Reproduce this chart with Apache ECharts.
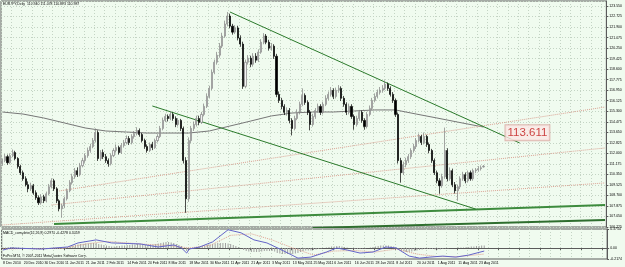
<!DOCTYPE html>
<html>
<head>
<meta charset="utf-8">
<title>EURJPY Daily</title>
<script src="https://cdn.jsdelivr.net/npm/echarts@6/dist/echarts.min.js"></script>
<style>
  html, body { margin: 0; padding: 0; background: #f0fbef; }
  #main { width: 625px; height: 267px; }
</style>
</head>
<body>
<div id="main"></div>
<script>
// trading days from 8 Dec 2010, extra empty slots on the right (chart shift)
const MONTHS = ['Jan', 'Feb', 'Mar', 'Apr', 'May', 'Jun', 'Jul', 'Aug', 'Sep', 'Oct', 'Nov', 'Dec']
const slotCount = 234
const dates = []
const day = new Date(2010, 11, 8)
while (dates.length < slotCount) {
  const wd = day.getDay()
  if (wd !== 0 && wd !== 6) dates.push(day.getDate() + ' ' + MONTHS[day.getMonth()] + ' ' + day.getFullYear())
  day.setDate(day.getDate() + 1)
}

// [open, close, low, high]
const candles = [
  [111.20, 111.43, 111.02, 111.60], [111.43, 111.74, 111.30, 111.95], [111.74, 111.27, 111.10, 111.90], [111.27, 111.82, 111.15, 112.00],
  [111.82, 112.06, 111.70, 112.30], [112.06, 111.59, 111.45, 112.20], [111.59, 110.96, 110.80, 111.70], [110.96, 110.48, 110.30, 111.10],
  [110.48, 110.01, 109.85, 110.65], [110.01, 109.54, 109.40, 110.20], [109.54, 109.22, 108.95, 109.80], [109.22, 109.46, 109.05, 109.70],
  [109.46, 108.91, 108.75, 109.60], [108.91, 108.52, 108.35, 109.10], [108.52, 108.12, 107.95, 108.70], [108.12, 108.59, 107.98, 108.80],
  [108.59, 108.28, 108.10, 108.75], [108.28, 108.83, 108.15, 109.00], [108.83, 109.38, 108.70, 109.60], [109.38, 109.85, 109.25, 110.05],
  [109.85, 109.22, 109.05, 110.00], [109.22, 108.28, 108.10, 109.35], [108.28, 107.65, 107.45, 108.40], [107.65, 107.89, 106.95, 108.05],
  [107.89, 108.44, 107.70, 108.60], [108.44, 109.07, 108.30, 109.25], [109.07, 109.70, 108.95, 109.90], [109.70, 110.17, 109.55, 110.40],
  [110.17, 110.64, 110.00, 110.85], [110.64, 110.33, 110.15, 110.90], [110.33, 111.03, 110.20, 111.25], [111.03, 111.43, 110.90, 111.65],
  [111.43, 111.82, 111.25, 112.00], [111.82, 112.22, 111.65, 112.45], [112.22, 112.53, 112.05, 112.75], [112.53, 113.00, 112.40, 113.20],
  [113.00, 113.63, 112.85, 113.95], [113.63, 111.59, 111.40, 113.80], [111.59, 112.06, 111.40, 112.25], [112.06, 111.74, 111.55, 112.30],
  [111.74, 111.43, 111.25, 111.95], [111.43, 111.19, 110.95, 111.60], [111.19, 111.82, 111.05, 112.00], [111.82, 112.22, 111.70, 112.40],
  [112.22, 112.45, 112.05, 112.70], [112.45, 112.06, 111.90, 112.60], [112.06, 112.61, 111.95, 112.80], [112.61, 112.84, 112.45, 113.05],
  [112.84, 113.16, 112.70, 113.40], [113.16, 112.84, 112.65, 113.35], [112.84, 113.32, 112.70, 113.50], [113.32, 113.55, 113.15, 113.75],
  [113.55, 113.79, 113.40, 114.05], [113.79, 113.47, 113.30, 113.95], [113.47, 113.00, 112.85, 113.60], [113.00, 112.53, 112.35, 113.15],
  [112.53, 112.22, 112.05, 112.70], [112.22, 112.69, 112.10, 112.85], [112.69, 112.45, 112.25, 112.90], [112.45, 113.00, 112.35, 113.15],
  [113.00, 113.32, 112.85, 113.50], [113.32, 113.95, 113.20, 114.15], [113.95, 114.58, 113.80, 114.80], [114.58, 114.89, 114.45, 115.10],
  [114.89, 114.73, 114.50, 115.05], [114.73, 115.05, 114.60, 115.30], [115.05, 114.73, 114.55, 115.20], [114.73, 114.26, 114.05, 114.90],
  [114.26, 114.58, 114.10, 114.75], [114.58, 113.95, 113.75, 114.70], [113.95, 111.43, 111.20, 114.10], [111.43, 108.44, 107.34, 111.70],
  [108.44, 113.00, 108.20, 113.25], [113.00, 113.95, 112.80, 114.15], [113.95, 114.26, 113.75, 114.50], [114.26, 114.73, 114.10, 114.95],
  [114.73, 114.42, 114.20, 114.95], [114.42, 115.05, 114.30, 115.25], [115.05, 115.68, 114.90, 115.90], [115.68, 116.46, 115.55, 116.70],
  [116.46, 117.09, 116.30, 117.30], [117.09, 118.35, 116.95, 118.55], [118.35, 119.14, 118.20, 119.35], [119.14, 119.69, 118.95, 119.95],
  [119.69, 120.40, 119.50, 120.65], [120.40, 121.19, 120.25, 121.45], [121.19, 122.13, 121.05, 122.40], [122.13, 122.76, 121.95, 123.08],
  [122.76, 121.97, 121.80, 122.95], [121.97, 121.50, 121.30, 122.15], [121.50, 121.82, 121.35, 122.05], [121.82, 121.03, 120.85, 122.00],
  [121.03, 120.56, 120.35, 121.25], [120.56, 117.25, 117.05, 120.75], [117.25, 119.14, 117.10, 119.35], [119.14, 119.46, 118.95, 119.70],
  [119.46, 118.98, 118.75, 119.65], [118.98, 119.61, 118.80, 119.85], [119.61, 119.30, 119.10, 119.85], [119.30, 119.93, 119.15, 120.15],
  [119.93, 120.71, 119.80, 120.95], [120.71, 121.19, 120.55, 121.42], [121.19, 120.71, 120.55, 121.35], [120.71, 120.24, 120.05, 120.90],
  [120.24, 120.40, 120.05, 120.65], [120.40, 119.61, 119.40, 120.55], [119.61, 116.62, 116.40, 119.80], [116.62, 116.15, 115.95, 116.85],
  [116.15, 115.68, 115.45, 116.35], [115.68, 115.21, 115.00, 115.85], [115.21, 115.36, 114.95, 115.60], [115.36, 114.58, 114.35, 115.55],
  [114.58, 113.95, 113.40, 114.75], [113.95, 114.73, 113.80, 114.95], [114.73, 115.21, 114.60, 115.45], [115.21, 115.84, 115.05, 116.05],
  [115.84, 116.54, 115.70, 117.09], [116.54, 115.99, 115.80, 116.70], [115.99, 115.21, 115.00, 116.15], [115.21, 114.26, 113.80, 115.40],
  [114.26, 114.89, 114.10, 115.10], [114.89, 115.36, 114.70, 115.55], [115.36, 115.68, 115.20, 115.90], [115.68, 115.21, 115.00, 115.85],
  [115.21, 115.84, 115.05, 116.05], [115.84, 116.31, 115.70, 116.55], [116.31, 116.62, 116.15, 116.85], [116.62, 116.94, 116.45, 117.20],
  [116.94, 116.46, 116.25, 117.10], [116.46, 116.94, 116.30, 117.15], [116.94, 117.09, 116.75, 117.35], [117.09, 116.31, 116.10, 117.25],
  [116.31, 115.84, 115.65, 116.50], [115.84, 115.21, 115.00, 116.00], [115.21, 115.68, 115.05, 115.90], [115.68, 114.89, 114.70, 115.85],
  [114.89, 114.26, 113.85, 115.05], [114.26, 114.73, 114.10, 114.95], [114.73, 115.21, 114.55, 115.40], [115.21, 114.58, 114.40, 115.35],
  [114.58, 114.10, 113.85, 114.75], [114.10, 115.05, 113.95, 115.25], [115.05, 115.52, 114.90, 115.75], [115.52, 116.15, 115.40, 116.35],
  [116.15, 116.46, 116.00, 116.70], [116.46, 116.78, 116.30, 117.00], [116.78, 116.94, 116.60, 117.20], [116.94, 117.09, 116.75, 117.35],
  [117.09, 117.41, 116.95, 117.72], [117.41, 117.09, 116.90, 117.55], [117.09, 116.62, 116.45, 117.25], [116.62, 116.15, 115.95, 116.80],
  [116.15, 115.05, 114.85, 116.30], [115.05, 111.43, 111.20, 115.20], [111.43, 110.48, 109.70, 111.65], [110.48, 111.11, 110.30, 111.35],
  [111.11, 111.43, 110.90, 111.65], [111.43, 111.74, 111.25, 111.95], [111.74, 112.22, 111.55, 112.40], [112.22, 112.53, 112.05, 112.75],
  [112.53, 113.00, 112.35, 113.20], [113.00, 113.32, 112.85, 113.55], [113.32, 112.84, 112.65, 113.45], [112.84, 113.32, 112.70, 113.63],
  [113.32, 112.69, 112.50, 113.45], [112.69, 112.22, 112.00, 112.85], [112.22, 111.43, 111.25, 112.35], [111.43, 110.48, 110.30, 111.60],
  [110.48, 109.85, 109.65, 110.65], [109.85, 109.46, 108.83, 110.05], [109.46, 110.17, 109.30, 110.40], [110.17, 112.22, 110.00, 114.02],
  [112.22, 110.01, 109.80, 112.40], [110.01, 110.64, 109.85, 110.90], [110.64, 109.54, 109.35, 110.80], [109.54, 109.07, 108.85, 109.75],
  [109.07, 109.38, 108.28, 109.55], [109.38, 110.01, 109.20, 110.20], [110.01, 110.33, 109.85, 110.55], [110.33, 109.85, 109.65, 110.50],
  [109.85, 110.48, 109.70, 110.65], [110.48, 110.01, 109.85, 110.65], [110.01, 110.64, 109.85, 110.80], [110.64, 110.70, 110.45, 110.85],
  [110.70, 110.80, 110.55, 111.00], [110.80, 110.87, 110.65, 111.05], [110.940, 110.987, 110.883, 111.078]
]
const lastClose = 110.987

// moving average, read every 8 bars
const maBars = [0, 8, 16, 24, 32, 40, 48, 56, 64, 72, 80, 88, 96, 104, 112, 120, 128, 136, 144, 152, 160, 168, 176, 186]
const maValues = [115.24, 115.08, 114.77, 114.38, 113.99, 113.75, 113.67, 113.59, 113.59, 113.59, 113.75, 114.14,
  114.53, 114.93, 115.16, 115.24, 115.24, 115.32, 115.40, 115.40, 115.08, 114.77, 114.45, 114.06]

// drawn objects: [bar index, price]
const upperTrend = [[88, 123.08], [200, 112.81]]
const channelTrend = [[58, 115.71], [183, 107.63]]
const supportA = [[20, 106.46], [233, 107.95]]
const supportB = [[120, 106.15], [233, 106.77]]
const dottedA = [[22, 109.05], [233, 115.63]]
const dottedB = [[19, 107.95], [233, 112.42]]
const dottedC = [[0, 106.38], [233, 109.68]]
const priceTag = [[203, 113.611]]

// price axis
const priceMin = 106.225
const priceMax = 123.94
const priceStep = 0.825

// MACD window
const macdTicks = [-0.2174, 0, 0.3754]
const macdBars = [0, 3, 15, 25, 29, 36, 42, 53, 60, 66, 69, 71, 72, 76, 81, 87, 92, 97, 102, 107, 114, 119, 125, 129,
  133, 138, 143, 148, 152, 157, 161, 165, 170, 175, 180, 186]
const macdValues = [-0.04, 0, -0.02, 0.02, 0.10, 0.16, 0.10, 0.08, 0.02, 0.06, 0, -0.10, -0.02, 0.02, 0.12, 0.36, 0.30, 0.16,
  0.10, -0.02, -0.20, -0.18, -0.08, 0, -0.04, -0.10, -0.08, 0.02, 0, -0.16, -0.20, -0.18, -0.16, -0.18, -0.14, -0.06]
const signalBars = [0, 8, 16, 24, 32, 40, 48, 56, 64, 72, 80, 88, 96, 104, 112, 120, 128, 136, 144, 152, 160, 168, 176, 186]
const signalValues = [-0.02, -0.01, -0.01, 0, 0.08, 0.13, 0.10, 0.07, 0.05, 0, 0.05, 0.25, 0.28, 0.16, 0, -0.14, -0.06, -0.05,
  -0.08, -0.02, -0.12, -0.17, -0.17, -0.12]
const histValues = [
  0.01, 0.01, 0.02, 0.02, 0.02, 0.01, 0.01, 0, 0, -0.01,
  -0.02, -0.02, -0.03, -0.03, -0.03, -0.02, -0.02, -0.01, -0.01, 0,
  0, -0.01, -0.02, -0.02, -0.01, 0.01, 0.03, 0.05, 0.06, 0.07,
  0.08, 0.08, 0.09, 0.09, 0.1, 0.1, 0.1, 0.08, 0.07, 0.06,
  0.05, 0.04, 0.03, 0.03, 0.04, 0.04, 0.05, 0.05, 0.06, 0.06,
  0.07, 0.07, 0.08, 0.08, 0.07, 0.06, 0.06, 0.07, 0.07, 0.08,
  0.09, 0.1, 0.11, 0.12, 0.12, 0.11, 0.1, 0.08, 0.06, 0.04,
  0, -0.06, -0.04, -0.02, 0, 0.02, 0.03, 0.04, 0.05, 0.06,
  0.07, 0.08, 0.09, 0.1, 0.1, 0.1, 0.1, 0.09, 0.08, 0.06,
  0.04, 0.02, 0, -0.04, -0.06, -0.07, -0.08, -0.08, -0.08, -0.08,
  -0.07, -0.06, -0.06, -0.06, -0.06, -0.07, -0.1, -0.11, -0.12, -0.12,
  -0.12, -0.12, -0.12, -0.11, -0.1, -0.08, -0.06, -0.05, -0.05, -0.05,
  -0.04, -0.03, -0.02, -0.01, 0, 0.01, 0.02, 0.03, 0.03, 0.04,
  0.04, 0.03, 0.02, 0.01, 0, -0.01, -0.02, -0.02, -0.02, -0.01,
  -0.01, 0, 0.01, 0.02, 0.03, 0.04, 0.05, 0.05, 0.05, 0.05,
  0.04, 0.03, 0.01, -0.03, -0.06, -0.07, -0.08, -0.08, -0.07, -0.06,
  -0.05, -0.04, -0.03, -0.02, -0.02, -0.02, -0.02, -0.03, -0.03, -0.03,
  -0.02, -0.01, -0.01, 0, 0, 0, 0.01, 0.01, 0.01, 0.02,
  0.02, 0.03, 0.03, 0.04, 0.04, 0.05, 0.05
]

const headerText = 'EURJPY,Daily  110.940 111.078 110.883 110.987'
const macdText = 'MACD_complete(12,26,9) 0.2970 -0.4278 0.3459'
const footerText = 'FxPro MT4, \u00a9 2001-2011 MetaQuotes Software Corp.'

const pairs = (xs, ys) => xs.map((x, k) => [x, ys[k]])
const tiny = { fontSize: 3.5, fontFamily: 'Liberation Sans', color: '#000' }
const gridLine = { color: '#c4d4c4', type: [1, 2], width: 1 }

function segment (name, data, color, width, type) {
  return {
    name,
    type: 'line',
    xAxisIndex: 0,
    yAxisIndex: 0,
    data,
    symbol: 'none',
    silent: true,
    lineStyle: { color, width, type: type || 'solid' },
    z: 3
  }
}

const chart = echarts.init(document.getElementById('main'), null, { renderer: 'canvas' })
chart.setOption({
  animation: false,
  backgroundColor: '#f0fbef',
  grid: [
    { left: 1, top: 1, width: 609, height: 226, show: true, borderColor: '#5a5a5a', borderWidth: 1 },
    { left: 1, top: 229, width: 609, height: 30, show: true, borderColor: '#5a5a5a', borderWidth: 1 }
  ],
  xAxis: [
    {
      type: 'category',
      gridIndex: 0,
      data: dates,
      boundaryGap: true,
      axisLine: { show: false },
      axisTick: { show: false },
      axisLabel: { show: false },
      splitLine: { show: true, interval: 3, lineStyle: gridLine }
    },
    {
      type: 'category',
      gridIndex: 1,
      data: dates,
      boundaryGap: true,
      axisLine: { show: true, lineStyle: { color: '#5a5a5a' } },
      axisTick: { show: true, interval: 7, length: 2, lineStyle: { color: '#5a5a5a' } },
      axisLabel: Object.assign({}, tiny, {
        margin: 2,
        align: 'left',
        interval: (idx) => idx % 8 === 0 && idx < candles.length
      }),
      splitLine: { show: true, interval: 3, lineStyle: gridLine }
    }
  ],
  yAxis: [
    {
      type: 'value',
      gridIndex: 0,
      position: 'right',
      min: priceMin,
      max: priceMax,
      interval: priceStep,
      axisLine: { show: true, lineStyle: { color: '#5a5a5a' } },
      axisTick: { show: true, length: 2, lineStyle: { color: '#5a5a5a' } },
      axisLabel: Object.assign({}, tiny, { margin: 3, showMaxLabel: false, formatter: (v) => v.toFixed(3) }),
      splitLine: { show: true, lineStyle: gridLine }
    },
    {
      type: 'value',
      gridIndex: 1,
      position: 'right',
      min: macdTicks[0],
      max: macdTicks[2],
      axisLine: { show: true, lineStyle: { color: '#5a5a5a' } },
      axisTick: { show: true, length: 2, customValues: macdTicks, lineStyle: { color: '#5a5a5a' } },
      axisLabel: Object.assign({}, tiny, {
        margin: 3,
        customValues: macdTicks,
        formatter: (v) => (v === 0 ? '0.00' : v.toFixed(4))
      }),
      splitLine: { show: false }
    }
  ],
  series: [
    segment('dotted A', dottedA, '#dba394', 1, 'dotted'),
    segment('dotted B', dottedB, '#dba394', 1, 'dotted'),
    segment('dotted C', dottedC, '#dba394', 1, 'dotted'),
    segment('support A', supportA, '#3d8b3d', 2),
    segment('support B', supportB, '#2e6e2e', 2),
    {
      name: 'MA',
      type: 'line',
      xAxisIndex: 0,
      yAxisIndex: 0,
      data: pairs(maBars, maValues),
      symbol: 'none',
      silent: true,
      lineStyle: { color: '#777777', width: 1 },
      z: 2
    },
    {
      name: 'EURJPY',
      type: 'candlestick',
      xAxisIndex: 0,
      yAxisIndex: 0,
      data: candles,
      barWidth: 1.6,
      itemStyle: {
        color: '#f2f2f2',
        color0: '#000000',
        borderColor: '#808080',
        borderColor0: '#000000',
        borderWidth: 0.7
      },
      markLine: {
        silent: true,
        symbol: 'none',
        lineStyle: { opacity: 0 },
        data: [{ yAxis: lastClose }],
        label: {
          show: true,
          position: 'end',
          distance: 1,
          formatter: lastClose.toFixed(3),
          fontSize: 3.5,
          fontFamily: 'Liberation Sans',
          color: '#ffffff',
          backgroundColor: '#000000',
          padding: [1, 1]
        }
      },
      z: 4
    },
    segment('upper trend', upperTrend, '#2b7a2b', 1),
    segment('channel', channelTrend, '#2b7a2b', 1),
    {
      name: 'tag',
      type: 'scatter',
      xAxisIndex: 0,
      yAxisIndex: 0,
      data: priceTag,
      symbolSize: 0,
      silent: true,
      z: 6,
      label: {
        show: true,
        position: 'inside',
        formatter: (p) => p.value[1].toFixed(3),
        fontSize: 11.5,
        fontFamily: 'Liberation Sans',
        color: '#c01818',
        backgroundColor: '#fbe9e6',
        borderColor: '#d8a8a0',
        borderWidth: 1,
        padding: [2, 2, 1, 2]
      }
    },
    {
      name: 'hist',
      type: 'bar',
      xAxisIndex: 1,
      yAxisIndex: 1,
      data: histValues,
      barWidth: 1,
      itemStyle: { color: '#a0a0a0' },
      silent: true
    },
    {
      name: 'signal',
      type: 'line',
      xAxisIndex: 1,
      yAxisIndex: 1,
      data: pairs(signalBars, signalValues),
      symbol: 'none',
      silent: true,
      lineStyle: { color: '#e0a090', width: 1, type: 'dotted' }
    },
    {
      name: 'MACD',
      type: 'line',
      xAxisIndex: 1,
      yAxisIndex: 1,
      data: pairs(macdBars, macdValues),
      symbol: 'none',
      silent: true,
      lineStyle: { color: '#6464c8', width: 1 }
    }
  ],
  graphic: [
    { type: 'text', left: 3, top: 2, style: { text: headerText, fontSize: 3.5, fontFamily: 'Liberation Sans', fill: '#000' } },
    { type: 'text', left: 3, top: 231, style: { text: macdText, fontSize: 3.5, fontFamily: 'Liberation Sans', fill: '#000' } },
    { type: 'text', left: 3, top: 254, style: { text: footerText, fontSize: 3.5, fontFamily: 'Liberation Sans', fill: '#000' } }
  ]
})
</script>
</body>
</html>
